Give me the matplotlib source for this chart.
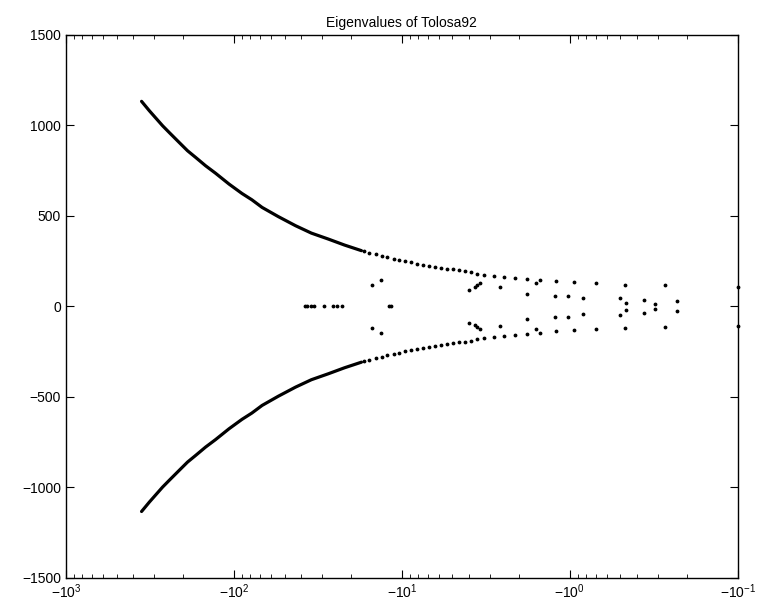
import math
import matplotlib
matplotlib.use('Agg')
import matplotlib.pyplot as plt
from matplotlib.ticker import FixedLocator, LogLocator, FuncFormatter, NullFormatter

plt.rcParams['font.family'] = ['Liberation Sans', 'DejaVu Sans']

# dense part of the upper branch
dense_x = [-355, -319, -291, -266, -243, -212, -189, -169, -147.5, -128.8,
           -107, -89.6, -78.2, -68, -54.4, -43, -34.6, -27.4, -21.96, -17.4]
dense_y = [1133, 1081, 1039, 998, 961, 906, 860, 823, 777, 736,
           676, 624, 589, 547, 496, 446, 405, 372, 339, 308]

# sparse dots of the upper branch
curve_x = [-16.9, -15.6, -14.3, -13.2, -12.2, -11.2, -10.35, -9.53, -8.79, -8.09,
           -7.46, -6.88, -6.34, -5.84, -5.39, -4.96, -4.57, -4.21, -3.88, -3.58,
           -3.24, -2.84, -2.47, -2.13, -1.80, -1.50, -1.21, -0.94, -0.70, -0.47,
           -0.27, -0.1]
curve_y = [304, 295, 287, 279, 271, 263, 256, 249, 243, 237,
           231, 225, 219, 214, 209, 204, 199, 194, 189, 180,
           174, 169, 163, 157, 152, 146, 138, 133, 127, 121,
           116, 110]

# other complex eigenvalues (upper half, conjugates below)
inner_x = [-15.1, -13.3, -3.98, -3.68, -3.55, -3.44, -2.62, -1.80, -1.59, -1.22,
           -1.02, -0.84, -0.50, -0.46, -0.36, -0.31, -0.23]
inner_y = [120, 148, 90, 105, 116, 127, 108, 70, 127, 59,
           57, 44, 47, 19, 36, 15, 28]

# real eigenvalues
real_x = [-38.0, -36.5, -35.0, -33.3, -29.1, -25.8, -24.3, -22.8, -12.0, -11.6]

fig = plt.figure(figsize=(7.59, 6.02), dpi=100)
ax = fig.add_axes([0.087, 0.040, 0.885, 0.902])

k = 'black'
for s in (1, -1):
    ax.plot([-v for v in dense_x], [s * v for v in dense_y], color=k, lw=2.3,
            solid_capstyle='round', solid_joinstyle='round')
    ax.plot([-v for v in curve_x], [s * v for v in curve_y], '.', color=k, ms=3.5,
            clip_on=False)
    ax.plot([-v for v in inner_x], [s * v for v in inner_y], '.', color=k, ms=3.5)
ax.plot([-v for v in real_x], [0] * len(real_x), '.', color=k, ms=3.5)

ax.set_xscale('log')
ax.set_xlim(1e3, 1e-1)
ax.set_ylim(-1500, 1500)
ax.xaxis.set_major_locator(FixedLocator([1e3, 1e2, 1e1, 1e0, 1e-1]))
ax.xaxis.set_minor_locator(LogLocator(base=10, subs=range(2, 10)))
ax.xaxis.set_minor_formatter(NullFormatter())
ax.xaxis.set_major_formatter(FuncFormatter(
    lambda v, p: '$\\mathregular{-10^{%d}}$' % round(math.log10(v))))
ax.set_yticks([-1500, -1000, -500, 0, 500, 1000, 1500])
ax.set_yticklabels(['\u22121500', '\u22121000', '\u2212500', '0', '500', '1000', '1500'])

ax.tick_params(which='both', direction='in', top=True, right=True, labelsize=10)
ax.tick_params(which='major', length=6)
ax.tick_params(which='minor', length=3)
for sp in ax.spines.values():
    sp.set_linewidth(1.0)

ax.set_title('Eigenvalues of Tolosa92', fontsize=10)

fig.savefig('out.png', dpi=100)
